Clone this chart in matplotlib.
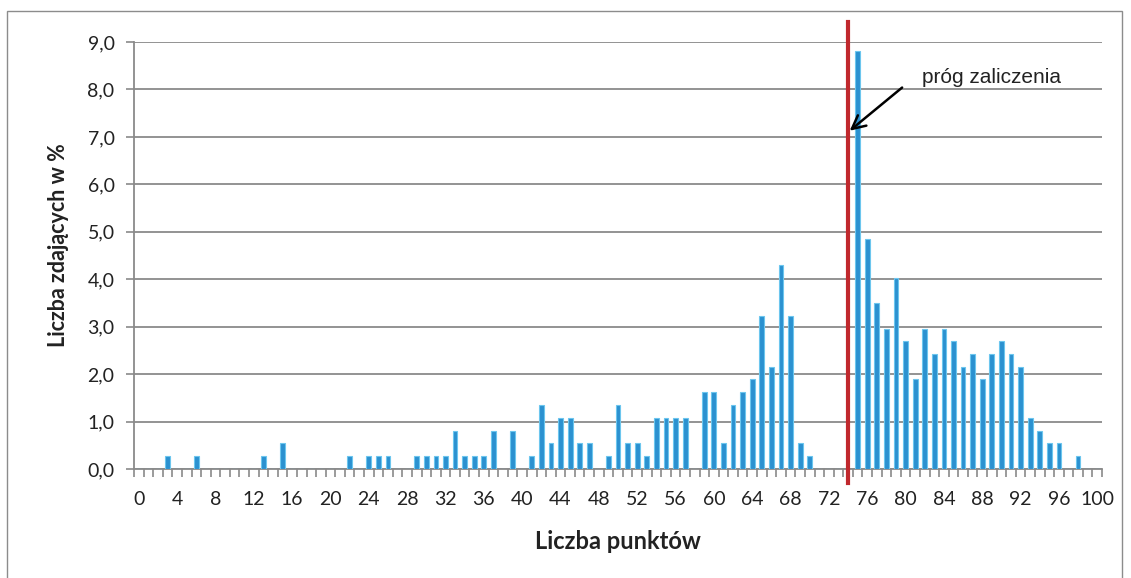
import numpy as np
import matplotlib
matplotlib.use('Agg')
from matplotlib import pyplot as plt
from matplotlib.ticker import FixedLocator, FuncFormatter
from matplotlib.patches import Rectangle

# points (0..100) and share of candidates in %
points = list(range(0, 101))
nonzero = {
    3: 0.27, 6: 0.27, 13: 0.27, 15: 0.54, 22: 0.27, 24: 0.27, 25: 0.27, 26: 0.27,
    29: 0.27, 30: 0.27, 31: 0.27, 32: 0.27, 33: 0.81, 34: 0.27, 35: 0.27, 36: 0.27,
    37: 0.81, 39: 0.81, 41: 0.27, 42: 1.35, 43: 0.54, 44: 1.08, 45: 1.08, 46: 0.54,
    47: 0.54, 49: 0.27, 50: 1.35, 51: 0.54, 52: 0.54, 53: 0.27, 54: 1.08, 55: 1.08,
    56: 1.08, 57: 1.08, 59: 1.62, 60: 1.62, 61: 0.54, 62: 1.35, 63: 1.62, 64: 1.89,
    65: 3.23, 66: 2.15, 67: 4.30, 68: 3.23, 69: 0.54, 70: 0.27,
    75: 8.82, 76: 4.84, 77: 3.49, 78: 2.96, 79: 4.03, 80: 2.69, 81: 1.89, 82: 2.96,
    83: 2.42, 84: 2.96, 85: 2.69, 86: 2.15, 87: 2.42, 88: 1.89, 89: 2.42, 90: 2.69,
    91: 2.42, 92: 2.15, 93: 1.08, 94: 0.81, 95: 0.54, 96: 0.54, 98: 0.27,
}
percent = [nonzero.get(p, 0.0) for p in points]
threshold = 74
x_labels = list(range(0, 101, 4))

plt.rcParams['font.family'] = ['Lato', 'DejaVu Sans']

fig = plt.figure(figsize=(11.31, 5.78), dpi=100)
ax = fig.add_axes([0.1185, 0.1886, 0.8559, 0.7387])

# outer chart border
fig.patches.append(Rectangle((7 / 1131, -0.01), 1115 / 1131, 1 - 11 / 578 + 0.01,
                             transform=fig.transFigure, fill=False,
                             edgecolor='#8c8c8c', linewidth=1.0))

ax.bar(points, percent, width=0.5, color='#2b91d0', edgecolor='#6cc6ee',
       linewidth=0.8, zorder=3)

ax.set_xlim(-0.5, 100.5)
ax.set_ylim(0, 9)

ax.yaxis.set_major_locator(FixedLocator(np.arange(0, 9.5, 1.0)))
ax.yaxis.set_major_formatter(FuncFormatter(lambda v, pos: ('%.1f' % v).replace('.', ',')))
ax.grid(axis='y', color='#8a8a8a', linewidth=1.3, zorder=0)

ax.xaxis.set_major_locator(FixedLocator(x_labels))
ax.xaxis.set_minor_locator(FixedLocator(np.arange(-0.5, 101, 1.0)))
ax.tick_params(axis='x', which='major', length=0, labelsize=14, pad=16, colors='#222222')
ax.tick_params(axis='x', which='minor', length=6, width=1.2, color='#8a8a8a')
ax.tick_params(axis='y', which='major', length=6, width=1.2, color='#8a8a8a',
               labelsize=14, labelcolor='#222222', pad=8)

for s in ['top', 'right']:
    ax.spines[s].set_visible(False)
for s in ['left', 'bottom']:
    ax.spines[s].set_color('#8a8a8a')
    ax.spines[s].set_linewidth(1.3)

ax.set_xlabel('Liczba punktów', fontsize=17, fontweight='bold', color='#222222')
ax.set_ylabel('Liczba zdających w %', fontsize=15.5, fontweight='bold', color='#222222')
ax.xaxis.set_label_coords(0.5, -0.142)
ax.yaxis.set_label_coords(-0.067, 0.525)

# pass threshold line
ax.plot([threshold, threshold], [-0.3, 9.42], color='#c0282d', linewidth=3,
        clip_on=False, zorder=5)

ax.annotate('', xy=(74.17, 7.13), xytext=(79.64, 8.04),
            arrowprops=dict(arrowstyle='->', color='black', lw=1.8,
                            mutation_scale=24, shrinkA=0, shrinkB=0),
            zorder=6)
ax.text(81.7, 8.14, 'próg zaliczenia', fontsize=15, va='baseline', ha='left',
        family=['Liberation Sans', 'DejaVu Sans'], color='#222222', zorder=6)

plt.savefig('out.png', dpi=100)
